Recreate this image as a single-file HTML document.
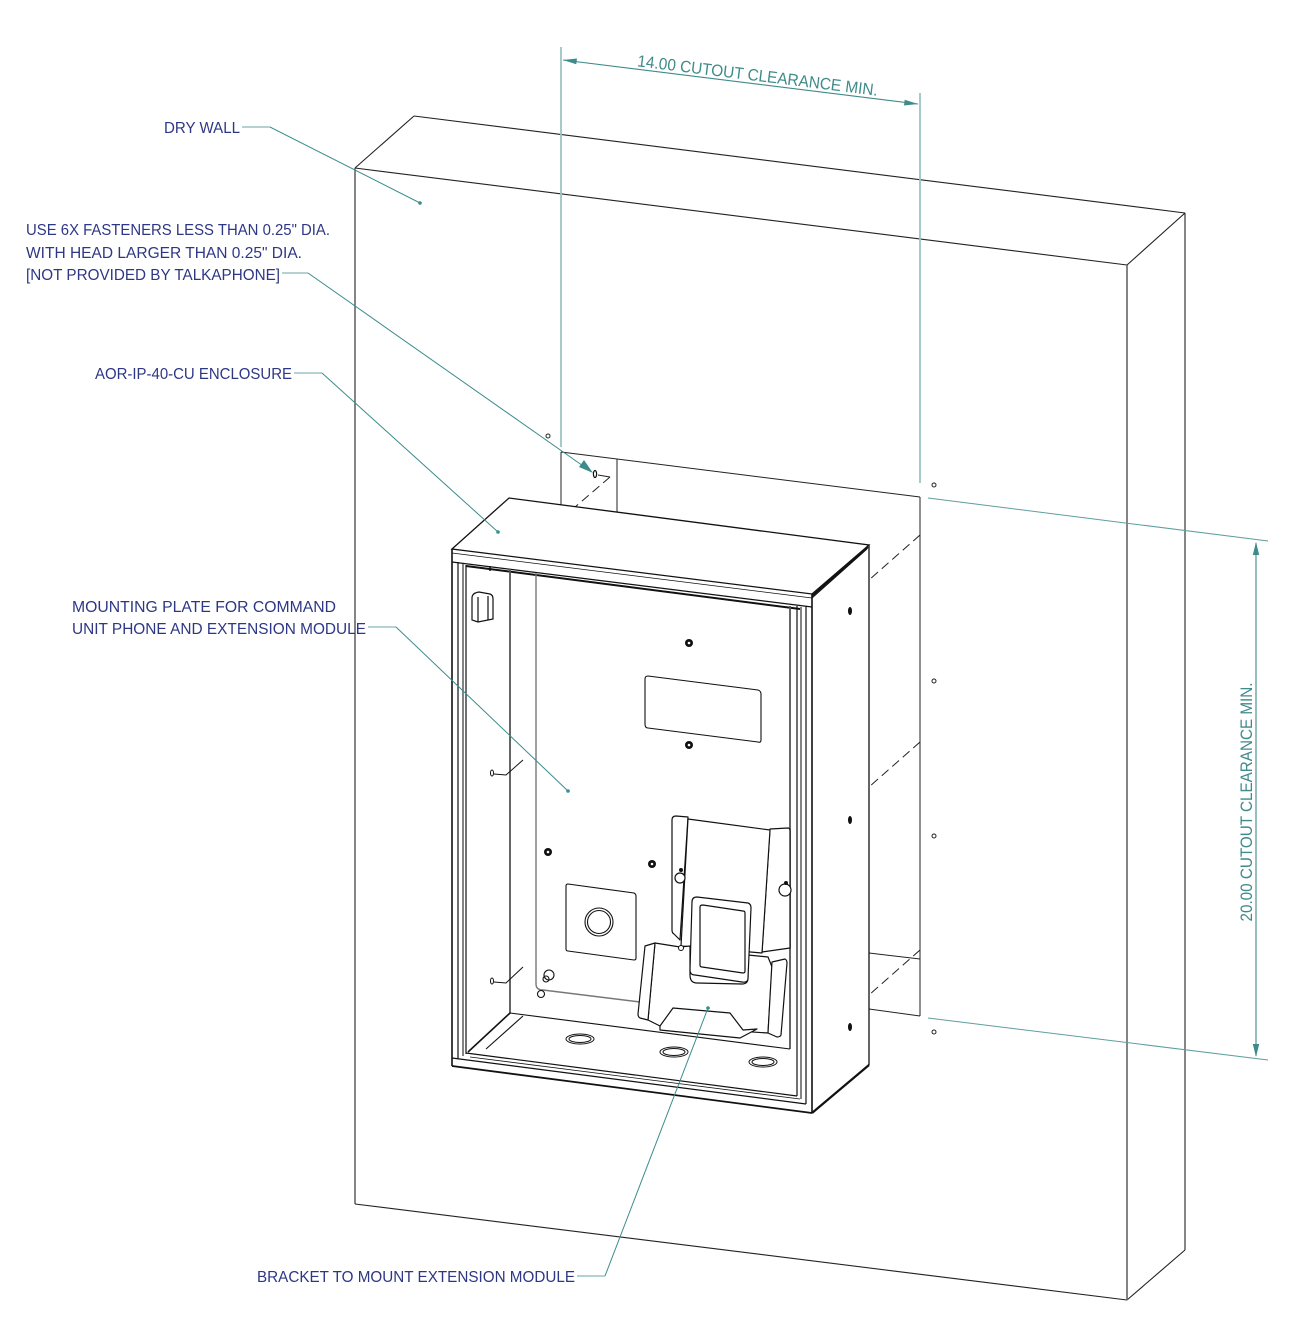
<!DOCTYPE html>
<html>
<head>
<meta charset="utf-8">
<style>
  html, body { margin: 0; padding: 0; background: #fff; }
  svg { display: block; }
  .lbl { font-family: "Liberation Sans", "DejaVu Sans", sans-serif; font-size: 15.5px; fill: #2e3785; }
  .dim { font-family: "Liberation Sans", "DejaVu Sans", sans-serif; font-size: 16.5px; fill: #3f8a8a; }
</style>
</head>
<body>
<svg width="1300" height="1339" viewBox="0 0 1300 1339" xmlns="http://www.w3.org/2000/svg">
  <rect x="0" y="0" width="1300" height="1339" fill="#fff"/>

  <!-- ===== DRY WALL ===== -->
  <g fill="none" stroke="#222" stroke-width="1.1">
    <line x1="355" y1="168" x2="1127" y2="265"/>
    <line x1="355" y1="168" x2="414" y2="116"/>
    <line x1="414" y1="116" x2="1185" y2="213"/>
    <line x1="1185" y1="213" x2="1127" y2="265"/>
    <line x1="355" y1="168" x2="355" y2="1204"/>
    <line x1="355" y1="1204" x2="1127" y2="1300"/>
    <line x1="1185" y1="213" x2="1185" y2="1250"/>
    <line x1="1185" y1="1250" x2="1127" y2="1300"/>
  </g>
  <line x1="1127" y1="265" x2="1127" y2="1300" stroke="#666" stroke-width="1.6"/>

  <!-- ===== CUTOUT in wall ===== -->
  <g fill="none" stroke="#222" stroke-width="1">
    <line x1="561" y1="452" x2="920" y2="497"/>
    <line x1="561" y1="452" x2="561" y2="505"/>
    <line x1="617" y1="459" x2="617" y2="512"/>
    <line x1="920" y1="497" x2="920" y2="1016"/>
    <line x1="598" y1="475" x2="610" y2="477"/>
    <line x1="869" y1="953" x2="920" y2="959"/>
    <line x1="869" y1="1009" x2="920" y2="1016"/>
  </g>
  <g fill="none" stroke="#222" stroke-width="1" stroke-dasharray="9,5">
    <line x1="610" y1="477" x2="575" y2="507"/>
    <line x1="920" y1="535" x2="869" y2="580"/>
    <line x1="920" y1="742" x2="869" y2="787"/>
    <line x1="920" y1="950" x2="869" y2="995"/>
  </g>
  <ellipse cx="595" cy="474" rx="1.6" ry="3.5" fill="none" stroke="#111" stroke-width="1.2"/>

  <g fill="#fff" stroke="#222" stroke-width="1">
    <circle cx="548" cy="436" r="2"/>
    <circle cx="934" cy="485" r="2"/>
    <circle cx="934" cy="681" r="2"/>
    <circle cx="934" cy="836" r="2"/>
    <circle cx="934" cy="1032" r="2"/>
  </g>

  <!-- ===== DIMENSIONS ===== -->
  <g stroke="#9cc3c3" stroke-width="1.8" fill="none">
    <line x1="561" y1="47" x2="561" y2="447"/>
    <line x1="920" y1="93" x2="920" y2="483"/>
  </g>
  <g stroke="#5e9e9e" stroke-width="1" fill="none">
    <line x1="928" y1="498" x2="1268" y2="541"/>
    <line x1="928" y1="1018" x2="1268" y2="1060"/>
  </g>
  <g stroke="#3f8a8a" stroke-width="1.1" fill="none">
    <line x1="563" y1="60" x2="918" y2="104"/>
    <line x1="1256" y1="543" x2="1256" y2="1056"/>
  </g>
  <g fill="#3f8a8a" stroke="none">
    <polygon points="563,60 577,58.5 576.3,64.2"/>
    <polygon points="918,104 904,105.5 904.7,99.8"/>
    <polygon points="1256,542 1252.8,555 1259.2,555"/>
    <polygon points="1256,1057 1252.8,1044 1259.2,1044"/>
  </g>
  <text class="dim" x="757" y="81" text-anchor="middle" transform="rotate(7 757 81)" textLength="242" lengthAdjust="spacingAndGlyphs">14.00 CUTOUT CLEARANCE MIN.</text>
  <text class="dim" x="1252" y="802" text-anchor="middle" transform="rotate(-90 1252 802)" textLength="239" lengthAdjust="spacingAndGlyphs">20.00 CUTOUT CLEARANCE MIN.</text>

  <!-- ===== ENCLOSURE ===== -->
  <polygon points="452,549 509,498 869,545 869,1065 812,1113 452,1066" fill="#fff" stroke="none"/>

  <g fill="none" stroke="#111" stroke-width="1.3">
    <polygon points="452,549 509,498 869,545 812,594"/>
    <line x1="812" y1="598" x2="867" y2="549" stroke-width="1"/>
  </g>
  <line x1="812" y1="596" x2="868" y2="547" stroke="#111" stroke-width="2"/>

  <g fill="none" stroke="#111" stroke-width="1.3">
    <line x1="869" y1="545" x2="869" y2="1065"/>
  </g>
  <line x1="812" y1="1113" x2="869" y2="1065" stroke="#111" stroke-width="2.2"/>
  <g fill="#111">
    <ellipse cx="850" cy="611" rx="2" ry="4"/>
    <ellipse cx="850" cy="820" rx="2" ry="4"/>
    <ellipse cx="850" cy="1027" rx="2" ry="4"/>
  </g>

  <g fill="none" stroke="#111" stroke-width="1.2">
    <line x1="452" y1="549" x2="452" y2="1066" stroke-width="1.6"/>
    <line x1="812" y1="594" x2="812" y2="1113" stroke-width="1.6"/>
    <line x1="452" y1="553" x2="812" y2="598" stroke-width="0.8"/>
    <line x1="452" y1="562" x2="812" y2="607"/>
    <line x1="458" y1="562" x2="458" y2="1059"/>
    <line x1="466" y1="565" x2="466" y2="1054"/>
    <line x1="806" y1="606" x2="806" y2="1104"/>
    <line x1="797" y1="606" x2="797" y2="1096"/>
    <line x1="452" y1="1066" x2="812" y2="1113" stroke-width="1.8"/>
    <line x1="452" y1="1058" x2="806" y2="1104"/>
    <line x1="466" y1="1053" x2="797" y2="1096"/>
    <line x1="470" y1="1057" x2="800" y2="1099" stroke-width="0.8"/>
  </g>
  <g fill="none" stroke="#777" stroke-width="1.8">
    <line x1="463" y1="564" x2="463" y2="1056"/>
    <line x1="801" y1="607" x2="801" y2="1099"/>
  </g>
  <line x1="466" y1="566" x2="800" y2="609" stroke="#111" stroke-width="2"/>

  <g fill="none" stroke="#555" stroke-width="1.8">
    <line x1="510" y1="569" x2="510" y2="1013"/>
    <line x1="790" y1="606" x2="790" y2="1049"/>
  </g>
  <g fill="none" stroke="#777" stroke-width="1.4">
    <path d="M536,573 L536,984 Q536,990 543,990 L640,1002"/>
  </g>
  <g fill="none" stroke="#111" stroke-width="1.1">
    <line x1="510" y1="1013" x2="790" y2="1049"/>
    <line x1="510" y1="1013" x2="468" y2="1052" stroke-width="1.6"/>
    <line x1="523" y1="1016" x2="486" y2="1049"/>
  </g>

  <g fill="#fff" stroke="#111" stroke-width="1.2">
    <path d="M472,598 Q472,593 479,592 L490,594 Q493,595 493,599 L493,619 L478,622 L472,620 Z"/>
    <line x1="478" y1="597" x2="478" y2="622"/>
    <line x1="488" y1="596" x2="488" y2="620"/>
  </g>
  <line x1="490" y1="566" x2="490" y2="571" stroke="#111" stroke-width="1.5"/>

  <g fill="none" stroke="#111" stroke-width="1">
    <ellipse cx="492" cy="773" rx="1.5" ry="3"/>
    <path d="M494,774 L506,775 L523,760"/>
    <ellipse cx="492" cy="981" rx="1.5" ry="3"/>
    <path d="M494,982 L506,983 L523,967"/>
  </g>

  <g fill="#111" stroke="none">
    <circle cx="689" cy="643" r="4"/>
    <circle cx="689" cy="745" r="4"/>
    <circle cx="548" cy="852" r="4"/>
    <circle cx="652" cy="864" r="4"/>
  </g>
  <g fill="#fff">
    <circle cx="689" cy="643" r="1.3"/>
    <circle cx="689" cy="745" r="1.3"/>
    <circle cx="548" cy="852" r="1.3"/>
    <circle cx="652" cy="864" r="1.3"/>
  </g>
  <g fill="none" stroke="#111" stroke-width="1.1">
    <path d="M648,676 L758,690 Q761,691 761,694 L761,740 Q761,743 758,742 L648,728 Q645,728 645,724 L645,679 Q645,676 648,676 Z"/>
    <path d="M568,884 L634,893 Q636,894 636,896 L636,958 Q636,960 634,960 L568,951 Q566,951 566,949 L566,886 Q566,884 568,884 Z"/>
    <circle cx="599" cy="922" r="14"/>
    <circle cx="599" cy="922" r="11.5"/>
    <circle cx="549" cy="975" r="5"/>
    <circle cx="546" cy="979" r="3"/>
    <circle cx="541" cy="994" r="3.5"/>
  </g>

  <g fill="none" stroke="#111" stroke-width="1">
    <ellipse cx="580" cy="1039" rx="14" ry="5"/>
    <ellipse cx="580" cy="1039" rx="11" ry="3.5"/>
    <ellipse cx="674" cy="1052" rx="14" ry="5"/>
    <ellipse cx="674" cy="1052" rx="11" ry="3.5"/>
    <ellipse cx="763" cy="1062" rx="14" ry="5"/>
    <ellipse cx="763" cy="1062" rx="11" ry="3.5"/>
  </g>

  <!-- ===== BRACKET ===== -->
  <g fill="#fff" stroke="#111" stroke-width="1.2" stroke-linejoin="round">
    <path d="M672,820 Q672,816 676,816 L688,817 L680,940 L674,934 Q672,933 672,930 Z"/>
    <path d="M770,829 L788,828 Q790,828 790,831 L790,948 L762,952 Z"/>
    <path d="M688,819 L770,830 L762,953 L681,946 Z"/>
    <circle cx="680" cy="878" r="5"/>
    <circle cx="785" cy="890" r="6"/>
    <path d="M655,943 L680,947 L690,946 L690,975 Q690,983 697,983 L742,984 Q748,984 748,978 L748,955 L768,957 L772,967 L768,1033 L660,1026 L648,1020 Z"/>
    <path d="M645,946 L655,943 L648,1020 L640,1018 Q638,1017 638,1014 Z"/>
    <path d="M772,962 L785,959 Q787,960 787,963 L781,1035 Q780,1037 777,1037 L768,1033 Z"/>
    <path d="M660,1026 L673,1008 L730,1013 L743,1030 L757,1029 L740,1038 L660,1030 Z"/>
    <path d="M697,897 L748,903 Q751,904 751,908 L748,978 Q748,983 742,982 L695,975 Q690,975 690,970 L692,902 Q692,897 697,897 Z"/>
    <path d="M703,905 L743,911 Q745,911 745,913 L745,971 Q745,973 743,973 L702,967 Q700,967 700,965 L700,907 Q700,905 703,905 Z"/>
  </g>
  <g fill="#111">
    <circle cx="681" cy="870" r="2"/>
    <circle cx="786" cy="883" r="2"/>
  </g>
  <circle cx="681" cy="948" r="2.5" fill="#fff" stroke="#111" stroke-width="1"/>

  <!-- ===== LEADERS ===== -->
  <g fill="none" stroke-width="1">
    <line x1="242" y1="127" x2="270" y2="127" stroke="#6aa6a6"/>
    <line x1="270" y1="127" x2="420" y2="203" stroke="#3c8c8c"/>
    <line x1="282" y1="273" x2="308" y2="273" stroke="#6aa6a6"/>
    <line x1="308" y1="273" x2="586" y2="468" stroke="#3c8c8c"/>
    <line x1="294" y1="373" x2="322" y2="373" stroke="#6aa6a6"/>
    <line x1="322" y1="373" x2="498" y2="532" stroke="#3c8c8c"/>
    <line x1="368" y1="627" x2="396" y2="627" stroke="#6aa6a6"/>
    <line x1="396" y1="627" x2="568" y2="791" stroke="#3c8c8c"/>
    <line x1="577" y1="1276" x2="605" y2="1276" stroke="#6aa6a6"/>
    <line x1="605" y1="1276" x2="708" y2="1008" stroke="#3c8c8c"/>
  </g>
  <g fill="#3c8c8c">
    <circle cx="420" cy="203" r="1.8"/>
    <circle cx="498" cy="532" r="1.8"/>
    <circle cx="568" cy="791" r="1.8"/>
    <circle cx="708" cy="1008" r="1.8"/>
    <polygon points="593,473 579,467 584,460"/>
  </g>

  <!-- ===== LABELS ===== -->
  <text class="lbl" x="164" y="133" textLength="76" lengthAdjust="spacingAndGlyphs">DRY WALL</text>
  <text class="lbl" x="26" y="235" textLength="304" lengthAdjust="spacingAndGlyphs">USE 6X FASTENERS LESS THAN 0.25" DIA.</text>
  <text class="lbl" x="26" y="258" textLength="276" lengthAdjust="spacingAndGlyphs">WITH HEAD LARGER THAN 0.25" DIA.</text>
  <text class="lbl" x="26" y="280" textLength="254" lengthAdjust="spacingAndGlyphs">[NOT PROVIDED BY TALKAPHONE]</text>
  <text class="lbl" x="95" y="379" textLength="197" lengthAdjust="spacingAndGlyphs">AOR-IP-40-CU ENCLOSURE</text>
  <text class="lbl" x="72" y="612" textLength="264" lengthAdjust="spacingAndGlyphs">MOUNTING PLATE FOR COMMAND</text>
  <text class="lbl" x="72" y="634" textLength="294" lengthAdjust="spacingAndGlyphs">UNIT PHONE AND EXTENSION MODULE</text>
  <text class="lbl" x="257" y="1282" textLength="318" lengthAdjust="spacingAndGlyphs">BRACKET TO MOUNT EXTENSION MODULE</text>
</svg>
</body>
</html>
